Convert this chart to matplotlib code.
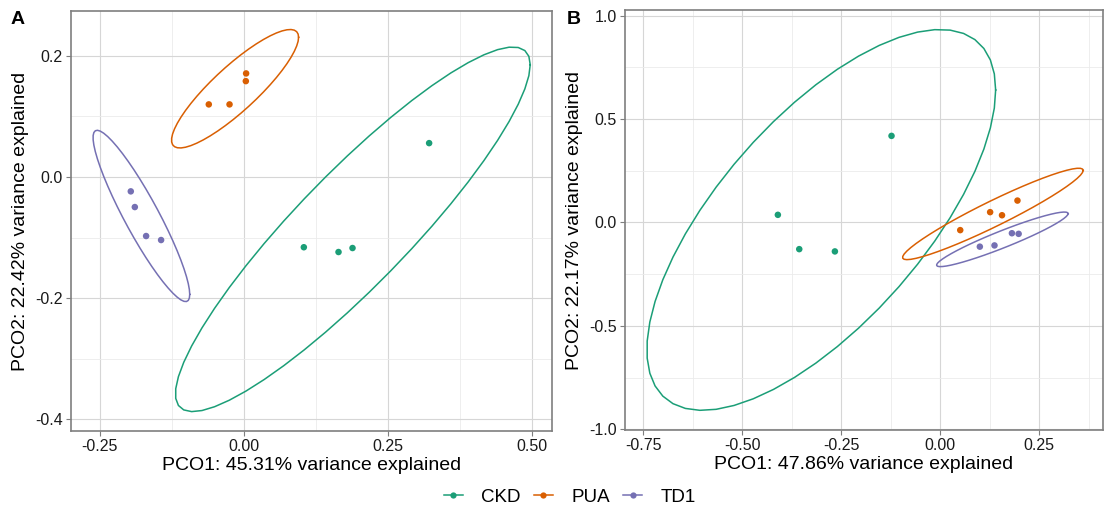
import numpy as np
import matplotlib
matplotlib.use("Agg")
import matplotlib.pyplot as plt
from matplotlib.lines import Line2D

plt.rcParams['font.family'] = ['Liberation Sans', 'DejaVu Sans']

groups = ["CKD", "PUA", "TD1"]
colors = {"CKD": "#1B9E77", "PUA": "#D95F02", "TD1": "#7570B3"}

# Panel A (PCO1 45.31%, PCO2 22.42%)
a_ckd_x = [0.3217, 0.1042, 0.1644, 0.1887]
a_ckd_y = [0.0560, -0.1158, -0.1237, -0.1171]
a_pua_x = [-0.0608, -0.0248, 0.0040, 0.0035]
a_pua_y = [0.1199, 0.1199, 0.1710, 0.1583]
a_td1_x = [-0.1962, -0.1892, -0.1696, -0.1436]
a_td1_y = [-0.0236, -0.0495, -0.0973, -0.1039]

# Panel B (PCO1 47.86%, PCO2 22.17%)
b_ckd_x = [-0.123, -0.410, -0.356, -0.266]
b_ckd_y = [0.419, 0.037, -0.129, -0.140]
b_pua_x = [0.0505, 0.126, 0.156, 0.195]
b_pua_y = [-0.037, 0.050, 0.035, 0.106]
b_td1_x = [0.100, 0.137, 0.181, 0.198]
b_td1_y = [-0.117, -0.111, -0.052, -0.055]

a_xticks = [-0.25, 0.0, 0.25, 0.50]
a_yticks = [-0.4, -0.2, 0.0, 0.2]
b_xticks = [-0.75, -0.50, -0.25, 0.0, 0.25]
b_yticks = [-1.0, -0.5, 0.0, 0.5, 1.0]


def cov_trob(x, nu=5, maxit=25, tol=0.01):
    # port of MASS::cov.trob (as used by ggplot2 stat_ellipse, type = "t")
    n, p = x.shape
    wt = np.ones(n)
    loc = x.mean(0)
    w = np.sqrt(wt)
    X = x - loc
    for _ in range(maxit):
        w0 = w
        X = x - loc
        _, d, Vt = np.linalg.svd(np.sqrt(w / w.sum())[:, None] * X, full_matrices=False)
        wX = X @ Vt.T @ np.diag(1 / d)
        Q = (wX ** 2).sum(1)
        w = wt * (nu + p) / (nu + Q)
        loc = (w[:, None] * x).sum(0) / w.sum()
        if np.all(np.abs(w - w0) < tol):
            break
    sX = np.sqrt(w)[:, None] * X
    cov = sX.T @ sX / wt.sum()
    return cov, loc


def ellipse_pts(xs, ys, level=0.95, segments=51):
    data = np.column_stack([xs, ys])
    shape, center = cov_trob(data)
    R = np.linalg.cholesky(shape).T
    d2 = len(xs) - 1
    fq = d2 / 2.0 * ((1 - level) ** (-2.0 / d2) - 1)  # qf(level, 2, d2)
    radius = np.sqrt(2 * fq)
    ang = np.arange(segments + 1) * 2 * np.pi / segments
    circ = np.column_stack([np.cos(ang), np.sin(ang)])
    return center + radius * (circ @ R)


fig = plt.figure(figsize=(11.05, 5.13), dpi=100)
W, H = 1105, 513


def make_ax(l, r, t, b):
    return fig.add_axes([l / W, (H - b) / H, (r - l) / W, (b - t) / H])


axA = make_ax(71, 552, 11, 431)
axB = make_ax(625, 1103, 10, 430)

panels = [
    (axA, {"CKD": (a_ckd_x, a_ckd_y), "PUA": (a_pua_x, a_pua_y), "TD1": (a_td1_x, a_td1_y)},
     (-0.300, 0.535), (-0.419, 0.274), a_xticks, a_yticks,
     ["-0.25", "0.00", "0.25", "0.50"], ["-0.4", "-0.2", "0.0", "0.2"],
     "PCO1: 45.31% variance explained", "PCO2: 22.42% variance explained"),
    (axB, {"CKD": (b_ckd_x, b_ckd_y), "PUA": (b_pua_x, b_pua_y), "TD1": (b_td1_x, b_td1_y)},
     (-0.796, 0.411), (-1.004, 1.028), b_xticks, b_yticks,
     ["-0.75", "-0.50", "-0.25", "0.00", "0.25"], ["-1.0", "-0.5", "0.0", "0.5", "1.0"],
     "PCO1: 47.86% variance explained", "PCO2: 22.17% variance explained"),
]

for ax, dat, xl, yl, xt, yt, xtl, ytl, xlab, ylab in panels:
    for g in groups:
        xs, ys = dat[g]
        e = ellipse_pts(xs, ys)
        ax.plot(e[:, 0], e[:, 1], color=colors[g], lw=1.1, zorder=2)
        ax.scatter(xs, ys, s=22, color=colors[g], edgecolors="none", zorder=3)
    ax.set_xticks(xt)
    ax.set_xticklabels(xtl)
    ax.set_yticks(yt)
    ax.set_yticklabels(ytl)
    xm = [(xt[i] + xt[i + 1]) / 2 for i in range(len(xt) - 1)]
    xm = [xt[0] - (xt[1] - xt[0]) / 2] + xm + [xt[-1] + (xt[1] - xt[0]) / 2]
    ym = [(yt[i] + yt[i + 1]) / 2 for i in range(len(yt) - 1)]
    ym = [yt[0] - (yt[1] - yt[0]) / 2] + ym + [yt[-1] + (yt[1] - yt[0]) / 2]
    ax.set_xticks(xm, minor=True)
    ax.set_yticks(ym, minor=True)
    ax.set_xlim(*xl)
    ax.set_ylim(*yl)
    ax.grid(which="major", color="#d6d6d6", lw=0.8)
    ax.grid(which="minor", color="#ebebeb", lw=0.6)
    ax.set_axisbelow(True)
    ax.tick_params(which="minor", length=0)
    ax.tick_params(which="major", length=3.5, width=0.8, color="#7f7f7f",
                   labelsize=11.5, labelcolor="#1a1a1a", pad=2.5)
    for sp in ax.spines.values():
        sp.set_color("#7f7f7f")
        sp.set_linewidth(1.2)
    ax.set_xlabel(xlab, fontsize=14, labelpad=2)
    ax.set_ylabel(ylab, fontsize=14, labelpad=4)

fig.text(11 / W, 1 - 20 / H, "A", fontsize=14, fontweight="bold", va="center", ha="left")
fig.text(567 / W, 1 - 20 / H, "B", fontsize=14, fontweight="bold", va="center", ha="left")

handles = [Line2D([0], [0], color=colors[g], lw=1.1, marker="o", markersize=4.5,
                  markeredgewidth=0) for g in groups]
fig.legend(handles, groups, loc="center", bbox_to_anchor=(570 / W, 1 - 497 / H), ncol=3,
           frameon=False, fontsize=13.5, handlelength=1.0, handletextpad=1.0,
           columnspacing=0.7, borderpad=0.2)

fig.savefig("out.png", dpi=100)
